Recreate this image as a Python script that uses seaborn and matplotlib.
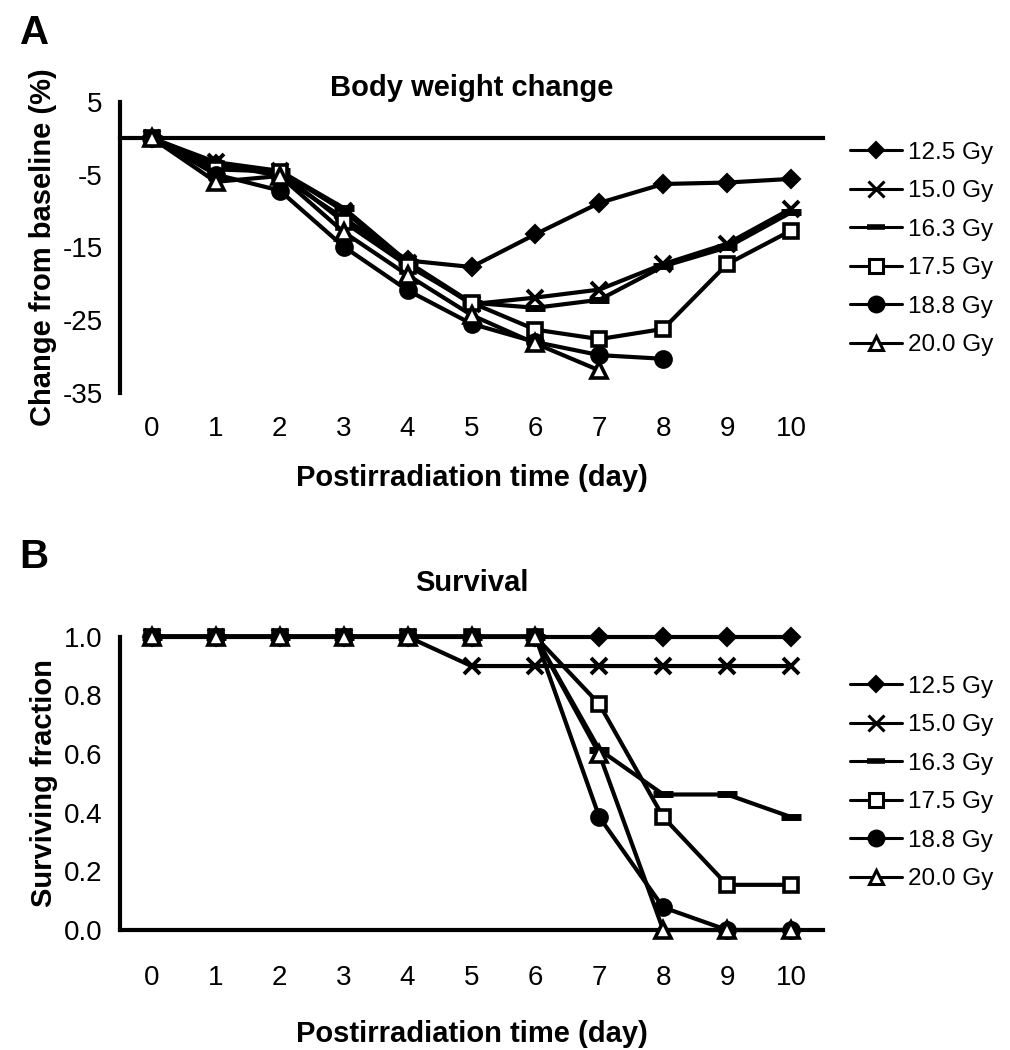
import numpy as np
import pandas as pd
import matplotlib
matplotlib.use("Agg")
import matplotlib.pyplot as plt
import seaborn as sns
from matplotlib.lines import Line2D

nan = np.nan
days = list(range(11))
day_labels = [str(d) for d in days]
doses = ["12.5 Gy", "15.0 Gy", "16.3 Gy", "17.5 Gy", "18.8 Gy", "20.0 Gy"]

# Panel A: body weight change from baseline (%)
bw_125 = [0, -3.5, -5.2, -11.0, -16.8, -17.7, -13.2, -8.9, -6.3, -6.1, -5.6]
bw_150 = [0, -3.3, -4.5, -10.0, -17.2, -22.8, -21.9, -20.8, -17.3, -14.5, -9.7]
bw_163 = [0, -4.0, -4.5, -9.6, -17.0, -22.6, -23.3, -22.2, -17.6, -15.0, -10.2]
bw_175 = [0, -4.3, -4.6, -11.5, -17.5, -22.6, -26.3, -27.6, -26.2, -17.3, -12.7]
bw_188 = [0, -5.0, -7.2, -14.9, -20.9, -25.5, -28.0, -29.8, -30.3, nan, nan]
bw_200 = [0, -6.0, -5.2, -12.9, -18.8, -24.3, -28.2, -31.9, nan, nan, nan]

# Panel B: surviving fraction
sv_125 = [1.0, 1.0, 1.0, 1.0, 1.0, 1.0, 1.0, 1.0, 1.0, 1.0, 1.0]
sv_150 = [1.0, 1.0, 1.0, 1.0, 1.0, 0.9, 0.9, 0.9, 0.9, 0.9, 0.9]
sv_163 = [1.0, 1.0, 1.0, 1.0, 1.0, 1.0, 1.0, 0.615, 0.462, 0.462, 0.385]
sv_175 = [1.0, 1.0, 1.0, 1.0, 1.0, 1.0, 1.0, 0.77, 0.385, 0.154, 0.154]
sv_188 = [1.0, 1.0, 1.0, 1.0, 1.0, 1.0, 1.0, 0.385, 0.077, 0.0, 0.0]
sv_200 = [1.0, 1.0, 1.0, 1.0, 1.0, 1.0, 1.0, 0.6, 0.0, 0.0, 0.0]

bw_series = [bw_125, bw_150, bw_163, bw_175, bw_188, bw_200]
sv_series = [sv_125, sv_150, sv_163, sv_175, sv_188, sv_200]

styles = [
    dict(marker="D", ms=9, mfc="black", mew=1.5),
    dict(marker="x", ms=12, mfc="black", mew=2.8),
    dict(marker="_", ms=14, mfc="black", mew=5),
    dict(marker="s", ms=10, mfc="white", mew=2.6),
    dict(marker="o", ms=12, mfc="black", mew=1.5),
    dict(marker="^", ms=11, mfc="white", mew=2.6),
]

sns.set_style("white")
plt.rcParams["font.family"] = ["Liberation Sans", "DejaVu Sans"]
plt.rcParams["axes.unicode_minus"] = False
plt.rcParams["text.color"] = "black"
plt.rcParams["axes.labelcolor"] = "black"
plt.rcParams["xtick.color"] = "black"
plt.rcParams["ytick.color"] = "black"

W, H = 1010, 1050
fig = plt.figure(figsize=(W / 100, H / 100), dpi=100)


def fx(px):
    return px / W


def fy(py):
    return 1 - py / H


axA = fig.add_axes([fx(120), fy(393), fx(823) - fx(120), fy(101.7) - fy(393)])
axB = fig.add_axes([fx(120), fy(930), fx(823) - fx(120), fy(636.7) - fy(930)])

LW = 3.0
TICK_FS = 20
LAB_FS = 21


def draw(ax, series):
    for dose, vals, st in zip(doses, series, styles):
        df = pd.DataFrame({"day": days, "value": vals}).dropna()
        sns.lineplot(data=df, x="day", y="value", ax=ax, color="black",
                     lw=LW, marker=st["marker"], ms=st["ms"],
                     mfc=st["mfc"], mec="black", mew=st["mew"],
                     clip_on=False, legend=False, zorder=3)


draw(axA, bw_series)
draw(axB, sv_series)

for ax in (axA, axB):
    ax.set_xlim(-0.5, 10.5)
    for s in ("top", "right"):
        ax.spines[s].set_visible(False)
    for s in ("left", "bottom"):
        ax.spines[s].set_linewidth(3)
        ax.spines[s].set_color("black")
    ax.tick_params(axis="y", direction="out", length=5, width=3,
                   labelsize=TICK_FS, pad=7.5)
    ax.set_xlabel("")

# ---- Panel A ----
axA.set_ylim(-35, 5)
axA.set_yticks([5, -5, -15, -25, -35])
axA.spines["bottom"].set_position(("data", 0))
axA.set_xticks(np.arange(0.5, 10, 1))
axA.set_xticklabels([])
axA.tick_params(axis="x", direction="out", length=5, width=3)
secA = axA.secondary_xaxis("bottom")
secA.set_xticks(days)
secA.set_xticklabels(day_labels)
secA.tick_params(length=0, labelsize=TICK_FS, pad=16.5)
secA.spines["bottom"].set_visible(False)
secA.set_xlabel("Postirradiation time (day)", fontsize=LAB_FS,
                fontweight="bold", labelpad=16)
axA.set_ylabel("Change from baseline (%)", fontsize=LAB_FS,
               fontweight="bold", labelpad=4)
axA.set_title("Body weight change", fontsize=LAB_FS, fontweight="bold", pad=4)

# ---- Panel B ----
axB.set_ylim(0, 1.0)
axB.set_yticks([0, 0.2, 0.4, 0.6, 0.8, 1.0])
axB.set_yticklabels(["0.0", "0.2", "0.4", "0.6", "0.8", "1.0"])
axB.set_xticks(days)
axB.set_xticklabels(day_labels)
axB.set_xticks(np.arange(0.5, 10, 1), minor=True)
axB.tick_params(axis="x", which="major", length=0, labelsize=TICK_FS, pad=25)
axB.tick_params(axis="x", which="minor", direction="out", length=5, width=3)
axB.set_xlabel("Postirradiation time (day)", fontsize=LAB_FS,
               fontweight="bold", labelpad=21)
axB.set_ylabel("Surviving fraction", fontsize=LAB_FS, fontweight="bold",
               labelpad=4)
axB.set_title("Survival", fontsize=LAB_FS, fontweight="bold", pad=33)

# ---- Legends ----
handles = []
for st in styles:
    handles.append(Line2D([], [], color="black", lw=2.2, marker=st["marker"],
                          ms=st["ms"] * 0.95, mfc=st["mfc"], mec="black",
                          mew=min(st["mew"], 2.2) if st["marker"] != "_" else 4))

for cy in (249, 783):
    fig.legend(handles, doses, loc="center left",
               bbox_to_anchor=(fx(850), fy(cy)), frameon=False,
               fontsize=17.5, handlelength=2.15, handletextpad=0.25,
               labelspacing=0.68, borderpad=0, borderaxespad=0)

# ---- Panel letters ----
fig.text(fx(35), fy(33), "A", fontsize=29, fontweight="bold",
         ha="center", va="center")
fig.text(fx(34), fy(557), "B", fontsize=29, fontweight="bold",
         ha="center", va="center")

fig.savefig("out.png", dpi=100, facecolor="white")
